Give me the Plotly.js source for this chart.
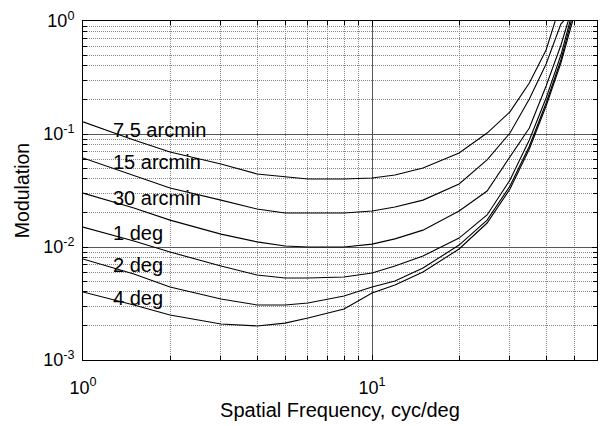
<!DOCTYPE html>
<html>
<head>
<meta charset="utf-8">
<script src="https://cdn.plot.ly/plotly-3.0.1.min.js"></script>
<style>html,body{margin:0;padding:0;background:#fff;}#chart{width:603px;height:426px;}</style>
</head>
<body>
<div id="chart"></div>
<script>
// Series names
const seriesNames = ['7.5 arcmin', '15 arcmin', '30 arcmin', '1 deg', '2 deg', '4 deg'];

// Spatial frequency (cyc/deg) per series
const freqA = [1, 1.5, 2, 3, 4, 5, 6, 8, 10, 12, 15, 20, 25, 30, 35, 40, 43];
const freqB = [1, 1.5, 2, 3, 4, 5, 6, 8, 10, 12, 15, 20, 25, 30, 35, 40, 45, 46];
const freqC = [1, 1.5, 2, 3, 4, 5, 6, 8, 10, 12, 15, 20, 25, 30, 35, 40, 45, 47.7];
const freqD = [1, 1.5, 2, 3, 4, 5, 6, 8, 10, 12, 15, 20, 25, 30, 35, 40, 45, 48.4];
const freqE = [1, 1.5, 2, 3, 4, 5, 6, 8, 10, 12, 15, 20, 25, 30, 35, 40, 45, 48.9];
const freqF = [1, 1.5, 2, 3, 4, 5, 6, 8, 10, 12, 15, 20, 25, 30, 35, 40, 45, 49.4];

// Modulation threshold per series
const modA = [0.128, 0.0885, 0.0693, 0.0543, 0.0443, 0.0416, 0.040, 0.040, 0.0408, 0.0434, 0.050, 0.068, 0.102, 0.157, 0.283, 0.554, 1.0];
const modB = [0.0613, 0.0425, 0.0333, 0.026, 0.0217, 0.020, 0.020, 0.020, 0.0208, 0.0226, 0.026, 0.0361, 0.0589, 0.102, 0.204, 0.417, 0.94, 1.0];
const modC = [0.030, 0.0221, 0.0173, 0.0130, 0.0111, 0.0102, 0.010, 0.010, 0.0106, 0.0118, 0.0141, 0.0208, 0.0313, 0.0626, 0.113, 0.266, 0.61, 1.0];
const modD = [0.0150, 0.0113, 0.00903, 0.0068, 0.00565, 0.00532, 0.00532, 0.00543, 0.00589, 0.0068, 0.00832, 0.0120, 0.0192, 0.0392, 0.0885, 0.208, 0.5, 1.0];
const modE = [0.00783, 0.00577, 0.00442, 0.00347, 0.00307, 0.00307, 0.00319, 0.00368, 0.00442, 0.0050, 0.00652, 0.0104, 0.0173, 0.0347, 0.078, 0.188, 0.452, 1.0];
const modF = [0.0040, 0.00307, 0.0025, 0.00208, 0.0020, 0.00212, 0.00235, 0.00283, 0.00392, 0.00461, 0.0060, 0.0096, 0.0163, 0.0326, 0.0736, 0.177, 0.425, 1.0];

// Tick labels
const xTickVals = [1, 10];
const xTickText = ['10<sup>0</sup>', '10<sup>1</sup>'];
const xMinorVals = [2, 3, 4, 5, 6, 7, 8, 9, 20, 30, 40, 50, 60];
const yTickVals = [0.001, 0.01, 0.1, 1];
const yTickText = ['10<sup>-3</sup>', '10<sup>-2</sup>', '10<sup>-1</sup>', '10<sup>0</sup>'];
const yMinorVals = [0.002, 0.003, 0.004, 0.005, 0.006, 0.007, 0.008, 0.009,
                    0.02, 0.03, 0.04, 0.05, 0.06, 0.07, 0.08, 0.09,
                    0.2, 0.3, 0.4, 0.5, 0.6, 0.7, 0.8, 0.9];

const xs = [freqA, freqB, freqC, freqD, freqE, freqF];
const ys = [modA, modB, modC, modD, modE, modF];

const traces = xs.map((x, i) => ({
  x: x, y: ys[i], type: 'scatter', mode: 'lines', name: seriesNames[i],
  line: {color: '#000', width: 1.1}, showlegend: false
}));

const family = 'Liberation Sans, Arial, sans-serif';
const labelY = [0.678, 0.583, 0.479, 0.376, 0.279, 0.184];
const annotations = seriesNames.map((t, i) => ({
  text: t, xref: 'paper', yref: 'paper', x: 0.055, y: labelY[i],
  xanchor: 'left', yanchor: 'middle', showarrow: false,
  font: {family: family, size: 20, color: '#000'}
}));

const font = {family: family, size: 18, color: '#000'};

const layout = {
  width: 603, height: 426,
  margin: {l: 83, r: 6, t: 21, b: 66},
  paper_bgcolor: '#fff', plot_bgcolor: '#fff',
  font: font,
  showlegend: false,
  xaxis: {
    type: 'log', range: [0, Math.log10(60)],
    tickmode: 'array', tickvals: xTickVals, ticktext: xTickText,
    ticks: 'inside', ticklen: 5, tickcolor: '#000', tickwidth: 1,
    ticklabelstandoff: 11,
    showline: true, linecolor: '#000', linewidth: 1, mirror: 'allticks',
    showgrid: true, gridcolor: '#555', gridwidth: 1,
    zeroline: false,
    tickfont: font,
    title: {text: 'Spatial Frequency, cyc/deg', font: {family: family, size: 20, color: '#000'}, standoff: 6},
    minor: {tickmode: 'array', tickvals: xMinorVals, ticks: 'inside', ticklen: 4, tickcolor: '#000',
            showgrid: true, gridcolor: '#888', griddash: '1px,1px', gridwidth: 1}
  },
  yaxis: {
    type: 'log', range: [-3, 0],
    tickmode: 'array', tickvals: yTickVals, ticktext: yTickText,
    ticks: 'inside', ticklen: 5, tickcolor: '#000', tickwidth: 1,
    ticklabelstandoff: 4,
    showline: true, linecolor: '#000', linewidth: 1, mirror: 'allticks',
    showgrid: true, gridcolor: '#555', gridwidth: 1,
    zeroline: false,
    tickfont: font,
    title: {text: 'Modulation', font: {family: family, size: 19.5, color: '#000'}, standoff: 8},
    minor: {tickmode: 'array', tickvals: yMinorVals, ticks: 'inside', ticklen: 4, tickcolor: '#000',
            showgrid: true, gridcolor: '#888', griddash: '1px,1px', gridwidth: 1}
  },
  annotations: annotations
};

Plotly.newPlot('chart', traces, layout, {displayModeBar: false, staticPlot: true});
</script>
</body>
</html>
